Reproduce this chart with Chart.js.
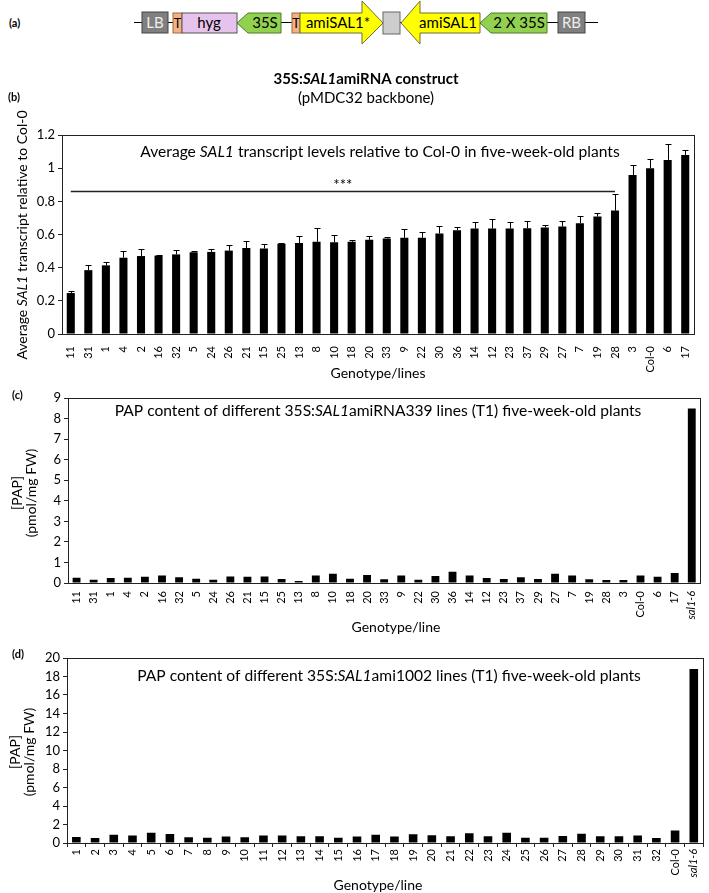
<!DOCTYPE html>
<html>
<head>
<meta charset="utf-8">
<script src="https://cdn.jsdelivr.net/npm/chart.js@4.4.1/dist/chart.umd.min.js"></script>
<style>
  body { margin: 0; background: #fff; font-family: Lato, sans-serif; }
  #page { position: relative; width: 709px; height: 893px; overflow: hidden; }
  canvas { position: absolute; left: 0; }
</style>
</head>
<body>
<div id="page">
  <!-- (a) construct map, plain drawing -->
  <svg width="709" height="50" style="position:absolute;left:0;top:0" font-family="Lato" font-size="15">
    <text x="9" y="27" font-size="11" font-weight="bold">(a)</text>
    <line x1="134" y1="22.5" x2="598" y2="22.5" stroke="#000"/>
    <rect x="142" y="12" width="26" height="21" fill="#7f7f7f" stroke="#444"/>
    <text x="155" y="28" fill="#eee" text-anchor="middle">LB</text>
    <rect x="173" y="13" width="9" height="20" fill="#f4b183" stroke="#9a6a40"/>
    <text x="177.5" y="28" font-size="13" text-anchor="middle">T</text>
    <rect x="182" y="13" width="55" height="20" fill="#e6c3ec" stroke="#555"/>
    <text x="209" y="28" text-anchor="middle">hyg</text>
    <polygon points="237,23 248,13 281,13 281,33 248,33" fill="#92d050" stroke="#4f7a26"/>
    <text x="265" y="28" text-anchor="middle">35S</text>
    <rect x="292" y="13" width="8" height="20" fill="#f4b183" stroke="#9a6a40"/>
    <text x="296" y="28" font-size="13" text-anchor="middle">T</text>
    <polygon points="300,13 362,13 362,1 383,23 362,44 362,33 300,33" fill="#ffff00" stroke="#6d6d3a"/>
    <text x="338" y="28" text-anchor="middle">amiSAL1*</text>
    <rect x="383" y="12" width="17" height="22" fill="#cdcdcd" stroke="#666"/>
    <polygon points="401,23 420,1 420,13 480,13 480,33 420,33 420,44" fill="#ffff00" stroke="#6d6d3a"/>
    <text x="448" y="28" text-anchor="middle">amiSAL1</text>
    <polygon points="480,23 491,13 547,13 547,33 491,33" fill="#92d050" stroke="#4f7a26"/>
    <text x="519" y="28" text-anchor="middle">2 X 35S</text>
    <rect x="558" y="12" width="27" height="21" fill="#7f7f7f" stroke="#444"/>
    <text x="571.5" y="28" fill="#eee" text-anchor="middle">RB</text>
  </svg>
  <canvas id="chartB" width="709" height="315" style="top:70px"></canvas>
  <canvas id="chartC" width="709" height="250" style="top:385px"></canvas>
  <canvas id="chartD" width="709" height="253" style="top:640px"></canvas>
</div>
<script>
// (b) SAL1 transcript levels
const linesB = ['11', '31', '1', '4', '2', '16', '32', '5', '24', '26', '21', '15', '25', '13', '8', '10', '18',
                '20', '33', '9', '22', '30', '36', '14', '12', '23', '37', '29', '27', '7', '19', '28', '3', 'Col-0', '6', '17'];
const transcriptB = [0.247, 0.385, 0.414, 0.46, 0.47, 0.473, 0.48, 0.493, 0.495, 0.503, 0.518, 0.516, 0.544, 0.548, 0.556, 0.554, 0.556,
                     0.568, 0.576, 0.58, 0.58, 0.606, 0.626, 0.636, 0.636, 0.636, 0.638, 0.642, 0.648, 0.668, 0.708, 0.744, 0.959, 1.0, 1.05, 1.08];
const errorB = [0.01, 0.03, 0.018, 0.04, 0.045, 0.005, 0.025, 0.01, 0.02, 0.035, 0.045, 0.025, 0.007, 0.04, 0.085, 0.04, 0.008,
                0.024, 0.008, 0.052, 0.038, 0.046, 0.02, 0.042, 0.06, 0.038, 0.044, 0.018, 0.036, 0.046, 0.02, 0.098, 0.058, 0.058, 0.094, 0.03];
const yTicksB = [0, 0.2, 0.4, 0.6, 0.8, 1, 1.2];

// (c) PAP, amiRNA339 lines
const linesC = ['11', '31', '1', '4', '2', '16', '32', '5', '24', '26', '21', '15', '25', '13', '8', '10', '18',
                '20', '33', '9', '22', '30', '36', '14', '12', '23', '37', '29', '27', '7', '19', '28', '3', 'Col-0', '6', '17', 'sal1-6'];
const papC = [0.26, 0.16, 0.24, 0.26, 0.31, 0.37, 0.28, 0.21, 0.16, 0.32, 0.31, 0.32, 0.19, 0.1, 0.36, 0.45, 0.21,
              0.39, 0.18, 0.37, 0.16, 0.34, 0.55, 0.37, 0.24, 0.19, 0.28, 0.19, 0.45, 0.37, 0.18, 0.15, 0.15, 0.37, 0.31, 0.49, 8.49];
const yTicksC = [0, 1, 2, 3, 4, 5, 6, 7, 8, 9];

// (d) PAP, ami1002 lines
const linesD = ['1', '2', '3', '4', '5', '6', '7', '8', '9', '10', '11', '12', '13', '14', '15', '16',
                '17', '18', '19', '20', '21', '22', '23', '24', '25', '26', '27', '28', '29', '30', '31', '32', 'Col-0', 'sal1-6'];
const papD = [0.65, 0.54, 0.9, 0.8, 1.12, 0.98, 0.61, 0.58, 0.69, 0.61, 0.8, 0.8, 0.72, 0.72, 0.58, 0.69,
              0.9, 0.69, 0.94, 0.83, 0.72, 1.05, 0.72, 1.12, 0.58, 0.58, 0.76, 1.01, 0.72, 0.72, 0.8, 0.54, 1.34, 18.8];
const yTicksD = [0, 2, 4, 6, 8, 10, 12, 14, 16, 18, 20];

const FONT = 'Lato';

// box round the plot area
const frame = {
  id: 'frame',
  afterDraw(chart) {
    const a = chart.chartArea, ctx = chart.ctx;
    ctx.save();
    ctx.strokeStyle = '#222';
    ctx.lineWidth = 1;
    ctx.strokeRect(Math.round(a.left) + 0.5, Math.round(a.top) + 0.5, Math.round(a.right - a.left), Math.round(a.bottom - a.top));
    ctx.restore();
  }
};

// upper error bars only
const errorBars = {
  id: 'errorBars',
  afterDatasetsDraw(chart, args, o) {
    if (!o.errors) return;
    const ys = chart.scales.y, ctx = chart.ctx;
    const vals = chart.data.datasets[0].data;
    ctx.save();
    ctx.strokeStyle = '#000';
    ctx.lineWidth = 1;
    chart.getDatasetMeta(0).data.forEach((bar, i) => {
      const x = Math.round(bar.x) + 0.5;
      const top = Math.round(ys.getPixelForValue(vals[i] + o.errors[i])) + 0.5;
      ctx.beginPath();
      ctx.moveTo(x, bar.y);
      ctx.lineTo(x, top);
      ctx.moveTo(x - 3, top);
      ctx.lineTo(x + 3, top);
      ctx.stroke();
    });
    ctx.restore();
  }
};

// significance line with stars
const sigBar = {
  id: 'sigBar',
  afterDatasetsDraw(chart, args, o) {
    if (o.value == null) return;
    const xs = chart.scales.x, ys = chart.scales.y, ctx = chart.ctx;
    const x1 = xs.getPixelForValue(chart.data.labels.indexOf(o.from));
    const x2 = xs.getPixelForValue(chart.data.labels.indexOf(o.to));
    const y = Math.round(ys.getPixelForValue(o.value)) + 0.5;
    ctx.save();
    ctx.strokeStyle = '#222';
    ctx.lineWidth = 1.3;
    ctx.beginPath();
    ctx.moveTo(x1, y);
    ctx.lineTo(x2, y);
    ctx.stroke();
    ctx.fillStyle = '#000';
    ctx.font = '15px ' + FONT;
    ctx.textAlign = 'center';
    ctx.textBaseline = 'middle';
    ctx.fillText(o.label, (x1 + x2) / 2, y - 6);
    ctx.restore();
  }
};

// text with italic / bold runs
function runFont(p, size) {
  return (p.i ? 'italic ' : '') + (p.b ? 'bold ' : '') + size + 'px ' + FONT;
}
const richText = {
  id: 'richText',
  afterDraw(chart, args, o) {
    const ctx = chart.ctx;
    (o.items || []).forEach(item => {
      const size = item.size || 14;
      const parts = item.parts.map(p => typeof p === 'string' ? { t: p } : p);
      ctx.save();
      let total = 0;
      parts.forEach(p => { ctx.font = runFont({ ...p, b: p.b || item.b }, size); total += ctx.measureText(p.t).width; });
      ctx.translate(item.x, item.y);
      if (item.rotate) ctx.rotate(item.rotate);
      let x = item.align === 'left' ? 0 : -total / 2;
      ctx.fillStyle = '#000';
      ctx.textBaseline = 'middle';
      parts.forEach(p => {
        ctx.font = runFont({ ...p, b: p.b || item.b }, size);
        ctx.fillText(p.t, x, 0);
        x += ctx.measureText(p.t).width;
      });
      ctx.restore();
    });
  }
};

function makeChart(id, labels, values, cfg) {
  return new Chart(document.getElementById(id), {
    type: 'bar',
    data: {
      labels: labels,
      datasets: [{ data: values, backgroundColor: '#000', barPercentage: cfg.barPct, categoryPercentage: 1 }]
    },
    options: {
      responsive: false,
      animation: false,
      layout: { padding: cfg.padding },
      plugins: Object.assign({ legend: { display: false }, tooltip: { enabled: false } }, cfg.plugins),
      scales: {
        x: {
          grid: { display: cfg.xTicks, drawOnChartArea: false, tickLength: 4, color: '#222' },
          border: { color: '#222' },
          ticks: {
            autoSkip: false, minRotation: 90, maxRotation: 90, color: '#000', padding: cfg.xPad,
            font: c => ({ family: FONT, size: 11, style: c.tick && c.tick.label === 'sal1-6' ? 'italic' : 'normal' })
          },
          afterFit: s => { s.height = cfg.xHeight; }
        },
        y: {
          min: 0,
          max: cfg.yTicks[cfg.yTicks.length - 1],
          afterBuildTicks: s => { s.ticks = cfg.yTicks.map(v => ({ value: v })); },
          grid: { drawOnChartArea: false, tickLength: 4, color: '#222' },
          border: { color: '#222' },
          ticks: { autoSkip: false, color: '#000', padding: 3, font: { family: FONT, size: 13 }, callback: v => String(v) },
          afterFit: s => { s.width = cfg.yWidth; }
        }
      }
    },
    plugins: [frame, errorBars, sigBar, richText]
  });
}

makeChart('chartB', linesB, transcriptB, {
  barPct: 0.46, xTicks: false, xPad: 8, yTicks: yTicksB,
  padding: { top: 65, right: 15, left: 0, bottom: 0 }, yWidth: 62, xHeight: 51,
  plugins: {
    errorBars: { errors: errorB },
    sigBar: { from: '11', to: '28', value: 0.86, label: '***' },
    richText: { items: [
      { parts: ['35S:', { t: 'SAL1', i: true }, 'amiRNA construct'], b: true, x: 366, y: 9, size: 15 },
      { parts: ['(pMDC32 backbone)'], x: 366, y: 28, size: 15 },
      { parts: ['(b)'], b: true, x: 8, y: 27, size: 11, align: 'left' },
      { parts: ['Average ', { t: 'SAL1', i: true }, ' transcript relative to Col-0'], x: 22, y: 165, size: 14, rotate: -Math.PI / 2 },
      { parts: ['Average ', { t: 'SAL1', i: true }, ' transcript levels relative to Col-0 in five-week-old plants'], x: 380, y: 82, size: 15.6 },
      { parts: ['Genotype/lines'], x: 378, y: 303, size: 14 }
    ] }
  }
});

makeChart('chartC', linesC, papC, {
  barPct: 0.46, xTicks: false, xPad: 4, yTicks: yTicksC,
  padding: { top: 13, right: 2, left: 0, bottom: 0 }, yWidth: 68, xHeight: 52,
  plugins: {
    richText: { items: [
      { parts: ['(c)'], b: true, x: 12, y: 10, size: 11, align: 'left' },
      { parts: ['[PAP]'], x: 17, y: 108, size: 14, rotate: -Math.PI / 2 },
      { parts: ['(pmol/mg FW)'], x: 31, y: 108, size: 14, rotate: -Math.PI / 2 },
      { parts: ['PAP content of different 35S:', { t: 'SAL1', i: true }, 'amiRNA339 lines (T1) five-week-old plants'], x: 378, y: 26, size: 15.6 },
      { parts: ['Genotype/line'], x: 396, y: 242, size: 14 }
    ] }
  }
});

makeChart('chartD', linesD, papD, {
  barPct: 0.46, xTicks: true, xPad: 2, yTicks: yTicksD,
  padding: { top: 18, right: 1, left: 0, bottom: 0 }, yWidth: 67, xHeight: 50,
  plugins: {
    richText: { items: [
      { parts: ['(d)'], b: true, x: 12, y: 14, size: 11, align: 'left' },
      { parts: ['[PAP]'], x: 15, y: 112, size: 14, rotate: -Math.PI / 2 },
      { parts: ['(pmol/mg FW)'], x: 29, y: 112, size: 14, rotate: -Math.PI / 2 },
      { parts: ['PAP content of different 35S:', { t: 'SAL1', i: true }, 'ami1002 lines (T1) five-week-old plants'], x: 389, y: 36, size: 15.6 },
      { parts: ['Genotype/line'], x: 378, y: 245, size: 14 }
    ] }
  }
});
</script>
</body>
</html>
